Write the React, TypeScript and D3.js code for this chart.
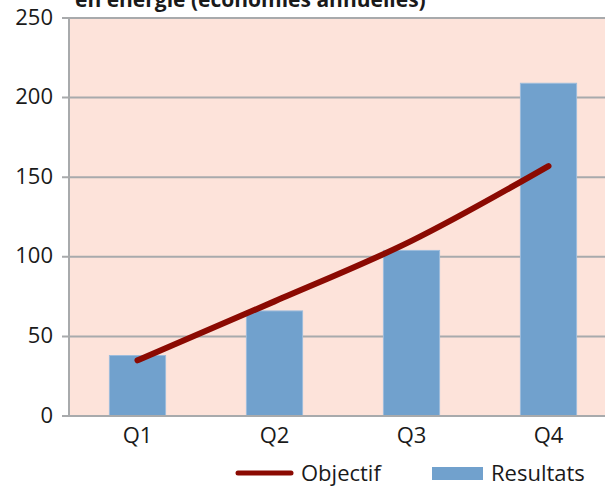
import React, { useEffect, useRef } from "react";
import * as d3 from "d3";

const quarters = ["Q1", "Q2", "Q3", "Q4"];
const resultats = [38, 66, 104, 209];
const objectif = [35, 72, 110, 157];
const yTicks = [0, 50, 100, 150, 200, 250];
const title = "en énergie (économies annuelles)";

const W = 605;
const H = 487;
const FONT = "'Open Sans', 'Noto Sans', sans-serif";

const App = () => {
  const ref = useRef<SVGSVGElement>(null);

  useEffect(() => {
    const svg = d3.select(ref.current);
    svg.selectAll("*").remove();

    const left = 69;
    const top = 18;
    const bottom = 416;
    const step = 137;

    const x = d3
      .scaleBand()
      .domain(quarters)
      .range([left, left + step * quarters.length])
      .paddingInner(0.59)
      .paddingOuter(0.295);

    const y = d3.scaleLinear().domain([0, 250]).range([bottom, top]);

    // plot background
    svg
      .append("rect")
      .attr("x", left)
      .attr("y", top)
      .attr("width", W - left)
      .attr("height", bottom - top)
      .attr("fill", "#fde3da");

    // gridlines
    svg
      .append("g")
      .selectAll("line")
      .data(yTicks)
      .join("line")
      .attr("x1", left - 7)
      .attr("x2", W)
      .attr("y1", (d) => y(d))
      .attr("y2", (d) => y(d))
      .attr("stroke", "#a8aaac")
      .attr("stroke-width", 2);

    // y axis line
    svg
      .append("line")
      .attr("x1", left)
      .attr("x2", left)
      .attr("y1", top)
      .attr("y2", bottom)
      .attr("stroke", "#a8aaac")
      .attr("stroke-width", 2);

    // y labels
    svg
      .append("g")
      .selectAll("text")
      .data(yTicks)
      .join("text")
      .attr("x", 53)
      .attr("y", (d) => y(d))
      .attr("dy", "0.3em")
      .attr("text-anchor", "end")
      .attr("font-family", FONT)
      .attr("font-size", 22)
      .attr("fill", "#1a1a1a")
      .text((d) => d);

    // bars
    svg
      .append("g")
      .selectAll("rect")
      .data(resultats)
      .join("rect")
      .attr("x", (d, i) => x(quarters[i])!)
      .attr("y", (d) => y(d))
      .attr("width", x.bandwidth())
      .attr("height", (d) => y(0) - y(d))
      .attr("fill", "#71a1cd")
      .attr("stroke", "#9dbcdc")
      .attr("stroke-width", 1);

    // bottom axis
    svg
      .append("line")
      .attr("x1", left - 7)
      .attr("x2", W)
      .attr("y1", bottom)
      .attr("y2", bottom)
      .attr("stroke", "#a8aaac")
      .attr("stroke-width", 2);

    // x labels
    svg
      .append("g")
      .selectAll("text")
      .data(quarters)
      .join("text")
      .attr("x", (d) => x(d)! + x.bandwidth() / 2)
      .attr("y", 443)
      .attr("text-anchor", "middle")
      .attr("font-family", FONT)
      .attr("font-size", 22)
      .attr("fill", "#1a1a1a")
      .text((d) => d);

    // objectif line
    const line = d3
      .line<number>()
      .x((d, i) => x(quarters[i])! + x.bandwidth() / 2)
      .y((d) => y(d))
      .curve(d3.curveMonotoneX);

    svg
      .append("path")
      .attr("d", line(objectif))
      .attr("fill", "none")
      .attr("stroke", "#8b0a02")
      .attr("stroke-width", 6)
      .attr("stroke-linecap", "round");

    // title (cut at top, as in the source)
    svg
      .append("text")
      .attr("x", 75)
      .attr("y", 7)
      .attr("font-family", FONT)
      .attr("font-weight", "bold")
      .attr("font-size", 21)
      .attr("fill", "#1a1a1a")
      .text(title);

    // legend
    const lg = svg.append("g");
    lg.append("line")
      .attr("x1", 238)
      .attr("x2", 291)
      .attr("y1", 473)
      .attr("y2", 473)
      .attr("stroke", "#8b0a02")
      .attr("stroke-width", 5)
      .attr("stroke-linecap", "round");
    lg.append("text")
      .attr("x", 301)
      .attr("y", 481)
      .attr("font-family", FONT)
      .attr("font-size", 22)
      .attr("fill", "#1a1a1a")
      .text("Objectif");
    lg.append("rect")
      .attr("x", 432)
      .attr("y", 467)
      .attr("width", 51)
      .attr("height", 13)
      .attr("fill", "#71a1cd");
    lg.append("text")
      .attr("x", 491)
      .attr("y", 481)
      .attr("font-family", FONT)
      .attr("font-size", 22)
      .attr("fill", "#1a1a1a")
      .text("Resultats");
  }, []);

  return (
    <svg
      ref={ref}
      width={W}
      height={H}
      style={{ position: "absolute", left: 0, top: 0, background: "#fff" }}
    ></svg>
  );
};

export default App;
